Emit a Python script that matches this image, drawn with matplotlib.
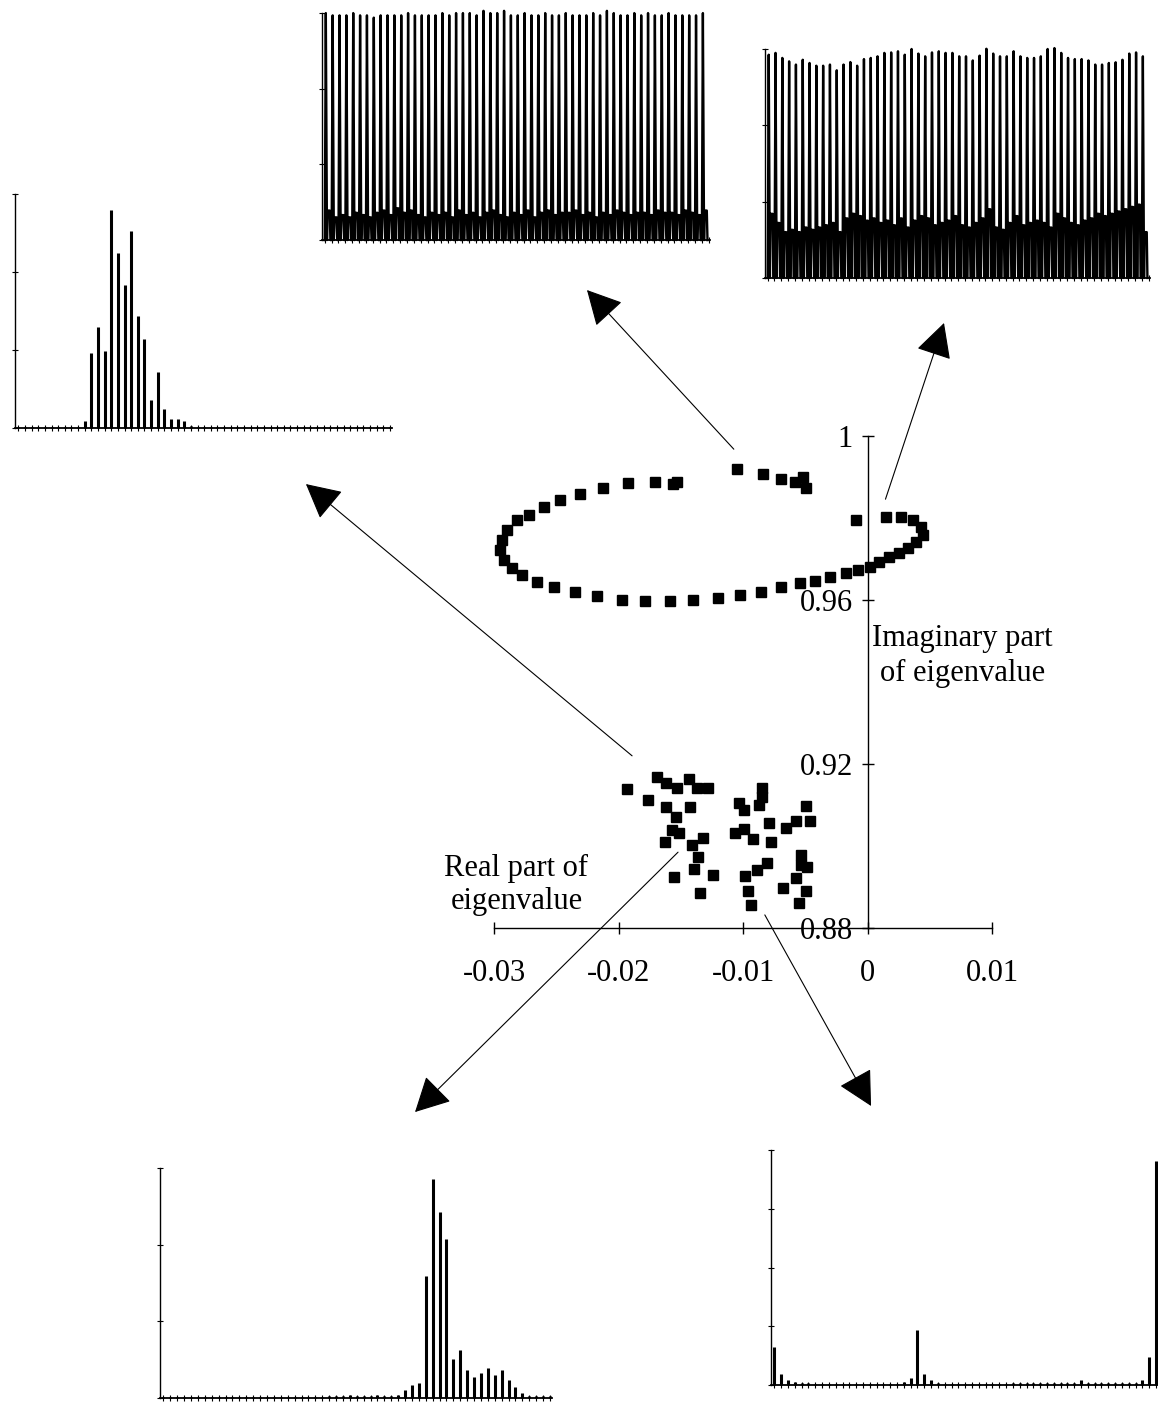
import matplotlib.pyplot as plt
import numpy as np
from matplotlib.patches import ConnectionPatch

plt.rcParams['font.family'] = ['Liberation Serif', 'DejaVu Serif']

# eigenvalues of the limit cycle (ring) and of the stable cluster
ring_re = [-0.01052, -0.00839, -0.00692, -0.00585, -0.00518, -0.00497,
           -0.01533, -0.01565, -0.01707, -0.01920, -0.02121, -0.02308, -0.02468,
           -0.02602, -0.02722, -0.02815, -0.02895, -0.02935, -0.02949, -0.02922,
           -0.02855, -0.02775, -0.02655, -0.02522, -0.02348, -0.02174, -0.01974,
           -0.01787, -0.01587, -0.01400, -0.01199, -0.01026, -0.00852, -0.00692,
           -0.00545, -0.00425, -0.00304, -0.00171, -0.00078,
           -0.00091, 0.00150, 0.00270, 0.00363, 0.00430, 0.00443, 0.00390,
           0.00323, 0.00256, 0.00176, 0.00096, 0.00016]
ring_im = [0.9919, 0.9907, 0.9895, 0.9889, 0.9901, 0.9874,
           0.9889, 0.9883, 0.9889, 0.9885, 0.9874, 0.9859, 0.9844,
           0.9828, 0.9807, 0.9795, 0.9771, 0.9746, 0.9722, 0.9698,
           0.9677, 0.9661, 0.9645, 0.9632, 0.9620, 0.9610, 0.9600,
           0.9598, 0.9598, 0.9600, 0.9604, 0.9612, 0.9620, 0.9632,
           0.9641, 0.9647, 0.9655, 0.9665, 0.9673,
           0.9795, 0.9803, 0.9803, 0.9795, 0.9779, 0.9759, 0.9742,
           0.9726, 0.9714, 0.9706, 0.9693, 0.9681]

cluster_re = [-0.01934, -0.01688, -0.01619, -0.01528, -0.01432, -0.01373, -0.01279,
              -0.01760, -0.01619, -0.01538, -0.01426, -0.01573, -0.01512, -0.01627,
              -0.01413, -0.01325, -0.01360, -0.01394, -0.01554, -0.01245, -0.01346,
              -0.00844, -0.00844, -0.00871, -0.01031, -0.00994, -0.00791, -0.01066,
              -0.00994, -0.00919, -0.00772, -0.00497, -0.00459, -0.00577, -0.00652,
              -0.00807, -0.00887, -0.00986, -0.00959, -0.00932, -0.00678, -0.00531,
              -0.00531, -0.00486, -0.00571, -0.00497, -0.00550]
cluster_im = [0.9138, 0.9168, 0.9153, 0.9141, 0.9163, 0.9141, 0.9141,
              0.9112, 0.9096, 0.9071, 0.9096, 0.9039, 0.9032, 0.9011,
              0.9002, 0.9019, 0.8974, 0.8943, 0.8925, 0.8929, 0.8885,
              0.9141, 0.9120, 0.9100, 0.9106, 0.9088, 0.9057, 0.9031,
              0.9041, 0.9016, 0.9011, 0.9098, 0.9062, 0.9062, 0.9043,
              0.8959, 0.8941, 0.8927, 0.8891, 0.8855, 0.8897, 0.8978,
              0.8954, 0.8950, 0.8921, 0.8891, 0.8860]

# power spectra (57 bins)
spec_tl = [0.003, 0.003, 0.003, 0.003, 0.003, 0.003, 0.003, 0.003, 0.003, 0.003,
           0.03, 0.32, 0.43, 0.33, 0.93, 0.75, 0.61, 0.84, 0.48, 0.38,
           0.12, 0.24, 0.08, 0.04, 0.04, 0.03, 0.008, 0.006, 0.006, 0.006,
           0.006, 0.006, 0.006, 0.006, 0.006, 0.006, 0.006, 0.006, 0.006, 0.006,
           0.006, 0.006, 0.006, 0.006, 0.006, 0.006, 0.006, 0.006, 0.006, 0.006,
           0.006, 0.006, 0.006, 0.006, 0.006, 0.006, 0.006]
spec_bl = [0.003, 0.003, 0.003, 0.003, 0.003, 0.003, 0.003, 0.003, 0.003, 0.003,
           0.003, 0.003, 0.003, 0.003, 0.003, 0.003, 0.003, 0.003, 0.003, 0.003,
           0.003, 0.003, 0.003, 0.006, 0.008, 0.008, 0.010, 0.012, 0.010, 0.010,
           0.010, 0.014, 0.010, 0.010, 0.012, 0.036, 0.058, 0.065, 0.53, 0.95,
           0.81, 0.69, 0.17, 0.21, 0.12, 0.09, 0.11, 0.13, 0.10, 0.12,
           0.08, 0.046, 0.022, 0.010, 0.008, 0.008, 0.008]
spec_br = [0.163, 0.045, 0.020, 0.015, 0.010, 0.008, 0.006, 0.006, 0.006, 0.006,
           0.006, 0.006, 0.006, 0.006, 0.006, 0.006, 0.006, 0.006, 0.006, 0.015,
           0.030, 0.234, 0.045, 0.020, 0.008, 0.006, 0.006, 0.006, 0.006, 0.006,
           0.006, 0.006, 0.006, 0.006, 0.006, 0.008, 0.008, 0.008, 0.008, 0.008,
           0.008, 0.008, 0.008, 0.008, 0.008, 0.020, 0.008, 0.008, 0.008, 0.008,
           0.008, 0.008, 0.008, 0.010, 0.020, 0.118, 0.955]

# time series: spike heights and inter-spike plateau per cycle
tc_peak = [1.00, 0.99, 0.99, 0.99, 1.00, 0.99, 0.99, 0.98, 0.99, 0.99,
           0.99, 0.99, 1.00, 0.99, 0.99, 0.99, 0.99, 1.00, 0.99, 1.00,
           1.00, 1.00, 0.99, 1.01, 1.00, 1.00, 1.01, 0.99, 0.99, 1.00,
           0.99, 0.99, 1.00, 0.99, 0.99, 1.00, 0.99, 0.99, 0.99, 1.00,
           0.99, 1.01, 1.00, 0.99, 0.99, 1.00, 0.99, 1.00, 0.99, 0.99,
           1.00, 0.99, 0.99, 0.99, 0.99, 1.00]
tc_low = [0.13, 0.10, 0.11, 0.10, 0.12, 0.11, 0.10, 0.12, 0.13, 0.11,
          0.14, 0.12, 0.13, 0.11, 0.10, 0.12, 0.11, 0.12, 0.10, 0.13,
          0.11, 0.12, 0.10, 0.12, 0.13, 0.11, 0.10, 0.12, 0.11, 0.13,
          0.10, 0.12, 0.13, 0.11, 0.12, 0.12, 0.13, 0.11, 0.12, 0.10,
          0.12, 0.11, 0.13, 0.12, 0.11, 0.12, 0.12, 0.11, 0.13, 0.12,
          0.12, 0.11, 0.13, 0.12, 0.11, 0.13]
tr_peak = [0.975, 0.983, 0.961, 0.946, 0.932, 0.953, 0.939, 0.927, 0.927, 0.932,
           0.907, 0.932, 0.943, 0.927, 0.956, 0.961, 0.968, 0.983, 0.985, 0.990,
           0.975, 1.000, 0.980, 0.968, 0.985, 0.990, 0.983, 0.983, 0.968, 0.968,
           0.950, 0.971, 1.001, 0.980, 0.968, 0.968, 0.990, 0.968, 0.961, 0.961,
           0.968, 1.000, 1.004, 0.983, 0.961, 0.956, 0.956, 0.950, 0.932, 0.932,
           0.939, 0.942, 0.953, 0.980, 0.985, 0.968]
tr_low = [0.28, 0.24, 0.20, 0.21, 0.20, 0.22, 0.21, 0.22, 0.23, 0.24,
          0.20, 0.26, 0.28, 0.27, 0.25, 0.26, 0.24, 0.25, 0.23, 0.26,
          0.22, 0.25, 0.27, 0.26, 0.23, 0.24, 0.25, 0.27, 0.23, 0.22,
          0.24, 0.26, 0.30, 0.22, 0.21, 0.24, 0.27, 0.23, 0.24, 0.25,
          0.24, 0.22, 0.28, 0.26, 0.24, 0.23, 0.25, 0.26, 0.28, 0.27,
          0.28, 0.29, 0.30, 0.31, 0.32, 0.20]

fig = plt.figure(figsize=(11.58, 14.08), dpi=100)

# main eigenvalue plane
ax = fig.add_axes([0.4266, 0.3409, 0.4301, 0.3494])
ax.plot(ring_re, ring_im, 's', color='black', ms=6.5, clip_on=False)
ax.plot(cluster_re, cluster_im, 's', color='black', ms=6.5, clip_on=False)
ax.set_xlim(-0.03, 0.01)
ax.set_ylim(0.88, 1.0)
ax.spines[['top', 'right']].set_visible(False)
ax.spines['left'].set_position(('data', 0))
for s in ax.spines.values():
    s.set_linewidth(1.0)
ax.set_xticks([-0.03, -0.02, -0.01, 0, 0.01])
ax.set_xticklabels(['-0.03', '-0.02', '-0.01', '0', '0.01'])
ax.set_yticks([0.88, 0.92, 0.96, 1.0])
ax.set_yticklabels(['0.88', '0.92', '0.96', '1'])
ax.tick_params(direction='inout', length=9, width=1.0, labelsize=22)
ax.tick_params(axis='x', pad=18)
ax.tick_params(axis='y', pad=6)
ax.patch.set_alpha(0)
ax.text(0.0076, 0.9463, 'Imaginary part\nof eigenvalue', fontsize=22,
        ha='center', va='center', linespacing=1.25)
ax.text(-0.0282, 0.8905, 'Real part of\neigenvalue', fontsize=22,
        ha='center', va='center', linespacing=1.2)


def small_axes(rect, xlim, nyt):
    a = fig.add_axes(rect)
    a.spines[['top', 'right']].set_visible(False)
    a.spines['left'].set_linewidth(1.0)
    a.spines['bottom'].set_linewidth(1.3)
    a.set_xlim(*xlim)
    a.set_ylim(0, 1)
    a.set_xticks(np.arange(0, 57))
    a.set_yticks(np.linspace(0, 1, nyt + 1))
    a.tick_params(direction='inout', length=4, width=0.8,
                  labelbottom=False, labelleft=False)
    a.patch.set_alpha(0)
    return a


def spectrum(rect, values, nyt):
    a = small_axes(rect, (-0.5, 56.3), nyt)
    a.vlines(np.arange(len(values)), 0, values, color='black', lw=2.2,
             clip_on=False)
    return a


def pulses(rect, peak, low):
    a = small_axes(rect, (-0.4, 56.2), 3)
    t, v = [], []
    for i in range(len(peak)):
        t += [i, i + 0.15, i + 0.32, i + 0.42, i + 0.72, i + 0.82]
        v += [0, peak[i], 0, low[i], low[i], 0]
    a.plot(t, v, color='black', lw=1.7, clip_on=False)
    return a


spectrum([0.01295, 0.6960, 0.3256, 0.1662], spec_tl, 3)
spectrum([0.1382, 0.0071, 0.3385, 0.1634], spec_bl, 3)
spectrum([0.6658, 0.0163, 0.3342, 0.1669], spec_br, 4)
pulses([0.2781, 0.8295, 0.3351, 0.1612], tc_peak, tc_low)
pulses([0.6606, 0.8026, 0.3325, 0.1626], tr_peak, tr_low)

# arrows from the eigenvalue groups to their spectra / time series
arrows = [((-0.01074, 0.9968), (0.5069, 0.7940)),
          ((0.00144, 0.9846), (0.8152, 0.7706)),
          ((-0.01891, 0.9220), (0.2642, 0.6562)),
          ((-0.01522, 0.8985), (0.3584, 0.2102)),
          ((-0.00825, 0.8832), (0.7522, 0.2145))]
for tail, tip in arrows:
    con = ConnectionPatch(xyA=tail, coordsA=ax.transData,
                          xyB=tip, coordsB=fig.transFigure,
                          arrowstyle='-|>,head_length=2.2,head_width=1.15',
                          mutation_scale=10, shrinkA=0, shrinkB=0,
                          lw=0.8, color='black', fc='black')
    fig.add_artist(con)

fig.savefig('out.png', dpi=100)
